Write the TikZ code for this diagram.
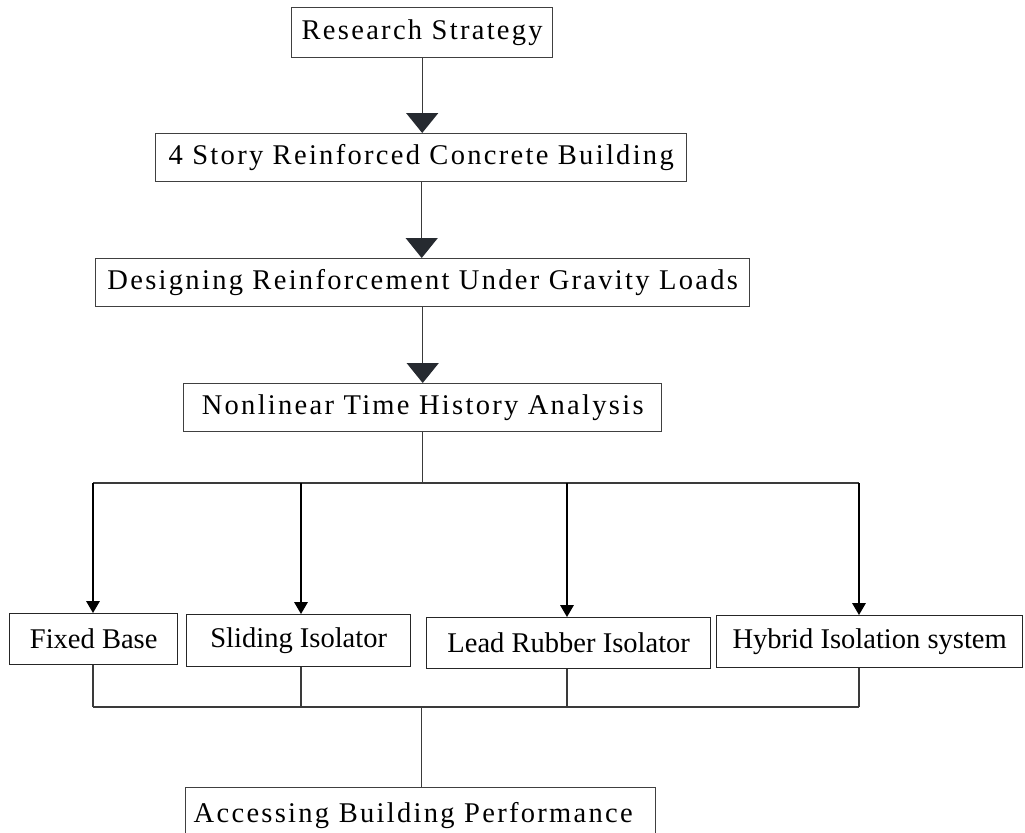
\documentclass[tikz,border=0pt]{standalone}
\usepackage{fontspec}
\setmainfont{Liberation Serif}
\newfontfamily\espace[LetterSpace=8]{Liberation Serif}
\usetikzlibrary{arrows.meta,calc}
\definecolor{trait}{HTML}{3A3A3A}
\definecolor{pointe}{HTML}{262A30}
\tikzstyle{etape} = [rectangle, draw=black!75, line width=1pt, inner sep=0pt, font=\espace\fontsize{20.3}{24}\selectfont, text centered]
\tikzstyle{variante} = [rectangle, draw=black!85, line width=1pt, inner sep=0pt, font=\fontsize{20.3}{24}\selectfont, text centered]
\tikzstyle{lien} = [draw=trait, line width=1pt]
\tikzstyle{fleche} = [lien, -{Triangle[width=0.8cm,length=0.5cm,color=pointe]}]
\tikzstyle{petitefleche} = [draw=black, line width=1pt, -{Triangle[width=0.34cm,length=0.3cm]}]

\begin{document}
\begin{tikzpicture}

        \useasboundingbox (0,0) rectangle (25.625,-20.8);

        %% main steps
        \node (strategie) [etape, anchor=north west, minimum width=6.525cm, minimum height=1.25cm] at (7.275,-0.175) {Research Strategy};
        \node (batiment) [etape, anchor=north west, minimum width=13.275cm, minimum height=1.2cm] at (3.875,-3.325) {4 Story Reinforced Concrete Building};
        \node (ferraillage) [etape, anchor=north west, minimum width=16.35cm, minimum height=1.2cm] at (2.375,-6.45) {Designing Reinforcement Under Gravity Loads};
        \node (analyse) [etape, anchor=north west, minimum width=11.95cm, minimum height=1.2cm] at (4.575,-9.575) {Nonlinear Time History Analysis};

        %% base variants
        \node (fixe) [variante, anchor=north west, minimum width=4.2cm, minimum height=1.275cm] at (0.225,-15.325) {Fixed Base};
        \node (glissant) [variante, anchor=north west, minimum width=5.6cm, minimum height=1.3cm] at (4.65,-15.35) {Sliding Isolator};
        \node (plomb) [variante, anchor=north west, minimum width=7.1cm, minimum height=1.275cm] at (10.65,-15.425) {Lead Rubber Isolator};
        \node (hybride) [variante, anchor=north west, minimum width=7.65cm, minimum height=1.3cm] at (17.9,-15.375) {Hybrid Isolation system};

        \node (bilan) [etape, anchor=north west, inner xsep=0.2cm, text width=11.35cm, align=left, minimum height=1.4cm] at (4.625,-19.675) {Accessing Building Performance};

        %% relations
        \draw[fleche] (strategie.south) -- (strategie.south |- batiment.north);
        \draw[fleche] ($(batiment.south)+(0.0125,0)$) -- ($(batiment.south |- ferraillage.north)+(0.0125,0)$);
        \draw[fleche] (ferraillage.south) -- (ferraillage.south |- analyse.north);

        \coordinate (h1) at (2.325,-12.075);
        \coordinate (h2) at (7.525,-12.075);
        \coordinate (h3) at (14.175,-12.075);
        \coordinate (h4) at (21.475,-12.075);

        \draw[lien] (analyse.south) -- (analyse.south |- h1);
        \draw[lien] (h1) -- (h4);
        \draw[petitefleche] (h1) -- (h1 |- fixe.north);
        \draw[petitefleche] (h2) -- (h2 |- glissant.north);
        \draw[petitefleche] (h3) -- (h3 |- plomb.north);
        \draw[petitefleche] (h4) -- (h4 |- hybride.north);

        \coordinate (b1) at (2.325,-17.675);
        \coordinate (b2) at (7.525,-17.675);
        \coordinate (b3) at (14.175,-17.675);
        \coordinate (b4) at (21.475,-17.675);

        \draw[lien] (b1 |- fixe.south) -- (b1);
        \draw[lien] (b2 |- glissant.south) -- (b2);
        \draw[lien] (b3 |- plomb.south) -- (b3);
        \draw[lien] (b4 |- hybride.south) -- (b4);
        \draw[lien] (b1) -- (b4);
        \draw[lien] ($(bilan.north)+(0.025,0)$) -- ($(bilan.north |- b1)+(0.025,0)$);

    \end{tikzpicture}
\end{document}
